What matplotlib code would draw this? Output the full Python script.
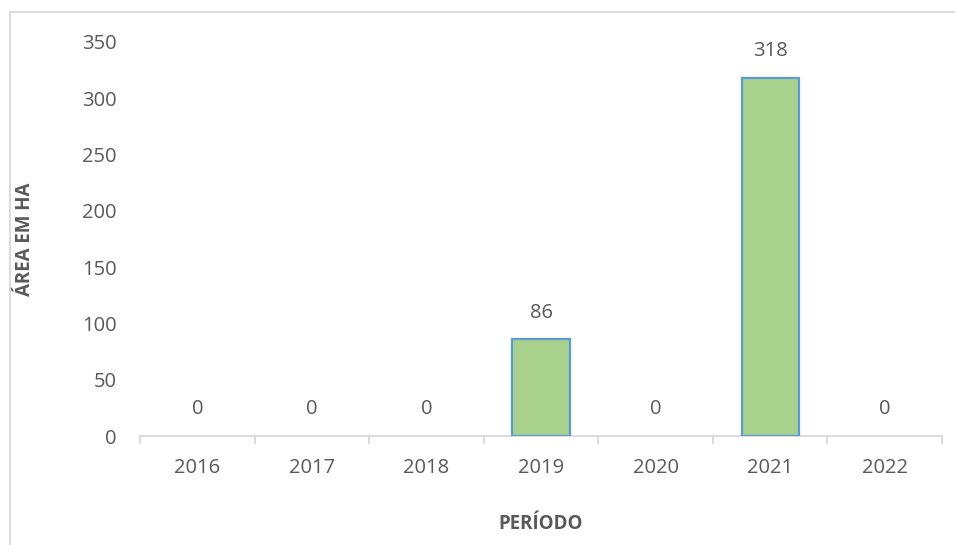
import numpy as np
import matplotlib.pyplot as plt
from matplotlib.lines import Line2D

# data
years = ['2016', '2017', '2018', '2019', '2020', '2021', '2022']
area_ha = [0, 0, 0, 86, 0, 318, 0]

text_col = '#595959'
grid_col = '#d9d9d9'
plt.rcParams['font.family'] = ['Open Sans', 'DejaVu Sans']

W, H = 955, 545
fig = plt.figure(figsize=(W / 100, H / 100), dpi=100)
ax = fig.add_axes([140 / W, (H - 436) / H, (942 - 140) / W, (436 - 42) / H])

x = np.arange(len(years))
# zero-height bars draw no outline
lw = [1.6 if v > 0 else 0 for v in area_ha]
bars = ax.bar(x, area_ha, width=0.5, color='#a9d18e', edgecolor='#5b9bd5',
              linewidth=lw, zorder=3)

for xi, v in zip(x, area_ha):
    ax.annotate(str(v), (xi, v), xytext=(0, 12), textcoords='offset points',
                ha='center', va='bottom', fontsize=14.5, color=text_col)

ax.set_xlim(-0.5, len(years) - 0.5)
ax.set_ylim(0, 350)
ax.set_yticks(np.arange(0, 351, 50))
ax.set_xticks(x)
ax.set_xticklabels(years)
ax.set_xticks(np.arange(-0.5, len(years), 1), minor=True)

for s in ['top', 'right', 'left']:
    ax.spines[s].set_visible(False)
ax.spines['bottom'].set_color(grid_col)
ax.spines['bottom'].set_linewidth(1.3)

ax.tick_params(axis='y', length=0, pad=17, labelsize=14.5, labelcolor=text_col)
ax.tick_params(axis='x', which='major', length=0, pad=16, labelsize=14.5, labelcolor=text_col)
ax.tick_params(axis='x', which='minor', length=6, width=1.3, color=grid_col)

ax.set_ylabel('ÁREA EM HA', fontsize=13.5, fontweight='bold', color=text_col, labelpad=34)
ax.set_xlabel('PERÍODO', fontsize=13.5, fontweight='bold', color=text_col, labelpad=26)

# outer chart frame (only top and left visible)
fig.add_artist(Line2D([10 / W, 1], [1 - 12 / H, 1 - 12 / H], transform=fig.transFigure,
                      color=grid_col, linewidth=1.3))
fig.add_artist(Line2D([10 / W, 10 / W], [0, 1 - 12 / H], transform=fig.transFigure,
                      color=grid_col, linewidth=1.3))

fig.savefig('out.png', dpi=100)
